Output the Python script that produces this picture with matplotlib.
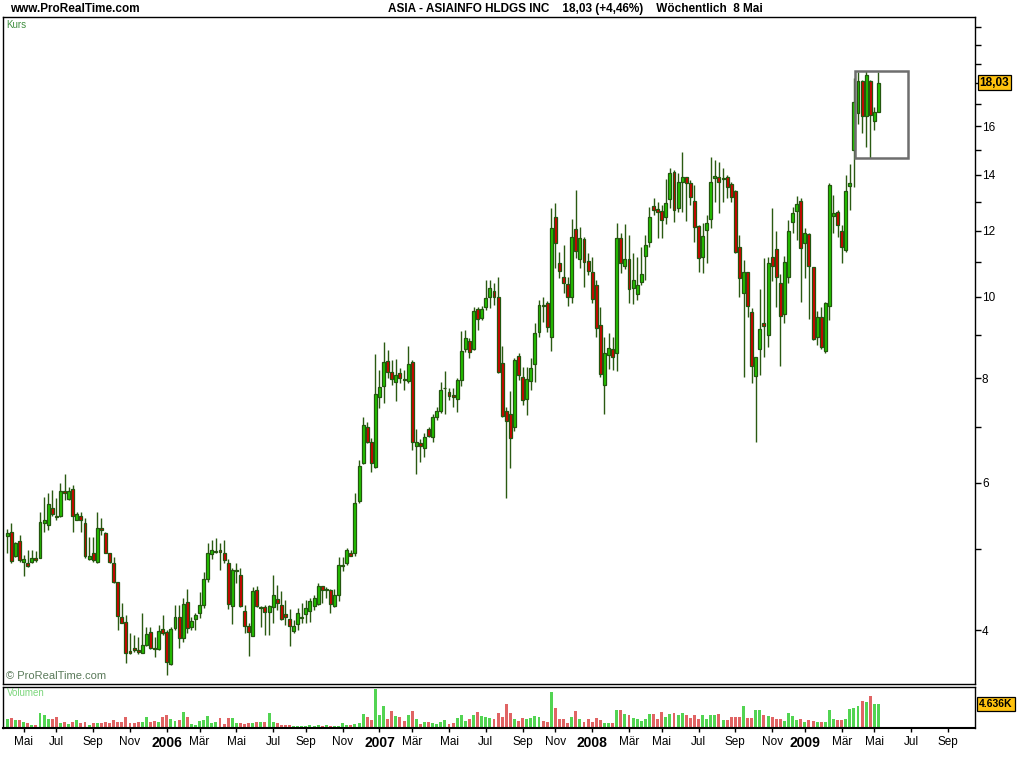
import matplotlib
matplotlib.use("Agg")
import matplotlib.pyplot as plt
import matplotlib.transforms as mtransforms
from matplotlib.patches import Rectangle
from matplotlib.ticker import FixedLocator, NullFormatter, FixedFormatter
import numpy as np
import pandas as pd

plt.rcParams['font.family'] = ['Liberation Sans', 'DejaVu Sans']

# ---------------- data (weekly candles, 8 Apr 2005 .. 8 May 2009) ----------------
start_date = "2005-04-08"
opens = [5.18,5.24,4.90,5.11,4.82,4.81,4.82,4.88,4.88,5.37,5.34,5.59,5.48,5.47,5.86,5.74,5.89,5.42,5.47,5.37,
         4.86,4.95,4.82,5.30,5.23,4.94,4.81,4.57,4.15,4.09,3.77,3.81,3.79,3.76,3.84,3.98,3.81,3.80,4.01,3.98,
         3.64,4.02,4.15,3.91,4.32,4.03,4.12,4.19,4.28,4.60,4.93,4.96,4.98,4.95,4.81,4.27,4.70,4.66,4.21,4.04,
         3.94,4.46,4.25,4.26,4.20,4.26,4.36,4.28,4.18,4.12,3.99,4.07,4.13,4.18,4.22,4.27,4.30,4.52,4.46,4.46,
         4.27,4.40,4.77,4.81,4.94,4.94,5.70,6.34,7.00,6.71,6.27,7.59,7.82,8.38,8.13,7.92,8.11,7.98,7.94,8.36,
         6.64,6.69,6.60,6.96,6.81,7.19,7.31,7.78,7.70,7.64,7.55,7.96,8.66,8.85,8.66,9.67,9.43,9.73,10.00,10.16,
         10.00,8.34,7.31,7.25,7.00,8.50,8.02,7.55,7.94,8.32,9.08,9.78,9.84,8.95,12.46,10.99,10.57,10.36,9.99,12.05,
         11.10,11.73,11.04,10.71,10.33,9.25,7.85,8.52,8.67,8.57,11.77,10.88,11.10,10.25,10.07,10.42,11.19,11.64,12.84,12.74,
         12.67,12.46,13.10,14.10,12.77,13.72,13.91,13.68,13.02,12.16,11.16,12.02,12.39,13.87,13.91,13.83,13.91,13.64,13.38,11.48,
         10.10,10.71,9.60,8.04,8.66,9.30,9.00,11.16,11.41,10.39,9.54,10.57,12.29,12.67,13.02,11.61,11.89,10.85,8.95,9.46,
         8.62,9.76,12.50,12.63,11.99,11.38,13.57,14.98,16.58,18.11,16.43,18.11,16.23,16.63]
highs = [5.28,5.37,5.10,5.19,4.92,4.98,4.98,4.97,5.53,5.77,5.83,5.88,5.75,5.99,6.14,5.93,5.96,5.53,5.53,5.45,
         5.16,5.16,5.53,5.45,5.24,4.95,4.89,4.57,4.31,4.17,3.97,3.95,3.92,4.19,4.03,4.03,3.92,4.06,4.17,4.00,
         4.03,4.28,4.28,4.37,4.48,4.15,4.19,4.44,4.69,5.08,5.12,5.15,5.08,5.12,4.86,4.75,4.81,4.75,4.28,4.08,
         4.50,4.52,4.27,4.28,4.28,4.66,4.53,4.45,4.35,4.24,4.11,4.25,4.31,4.34,4.37,4.40,4.55,4.52,4.50,4.48,
         4.48,4.89,4.89,5.01,4.98,5.83,6.39,7.19,7.09,6.79,8.55,8.18,8.83,8.64,8.41,8.43,8.22,8.18,8.74,8.41,
         6.96,6.77,6.88,7.00,7.25,7.39,7.92,8.16,7.79,7.79,8.00,9.10,9.13,8.93,9.73,9.73,9.76,10.48,10.48,10.39,
         10.57,8.74,7.39,7.72,8.45,8.57,8.25,8.25,8.45,9.30,9.92,10.00,9.89,12.78,12.95,11.32,11.54,10.57,12.39,13.42,
         12.12,11.80,11.29,11.16,10.48,9.73,8.95,9.05,8.95,12.26,11.93,12.22,11.86,11.29,11.16,11.48,11.86,12.81,13.13,12.99,
         12.88,13.83,14.26,14.18,14.06,14.90,13.91,13.79,13.61,12.19,12.26,12.53,14.70,14.57,14.49,14.26,13.99,13.72,13.42,11.86,
         11.07,10.71,9.70,8.48,10.22,11.13,11.16,12.77,11.99,10.65,11.19,12.36,12.81,13.20,13.13,12.09,11.93,10.85,9.62,9.73,
         9.86,13.68,13.24,12.70,12.19,13.99,14.41,18.26,18.57,18.16,18.62,18.16,16.86,18.57]
lows = [4.94,4.81,4.89,4.82,4.64,4.76,4.81,4.82,4.88,5.24,5.27,5.48,5.41,5.46,5.72,5.72,5.24,5.41,5.24,4.87,
        4.85,4.82,4.81,5.19,4.94,4.81,4.55,4.00,4.08,3.65,3.74,3.77,3.74,3.76,3.83,3.80,3.71,3.79,3.95,3.53,
        3.63,4.00,3.81,3.87,3.97,4.00,4.00,4.13,4.25,4.57,4.86,4.95,4.72,4.81,4.24,4.07,4.55,4.26,3.97,3.72,
        3.93,4.26,4.03,3.95,3.95,4.08,4.23,4.11,4.06,3.83,3.97,4.00,4.08,4.08,4.09,4.23,4.29,4.31,4.37,4.19,
        4.26,4.33,4.70,4.78,4.91,4.90,5.68,6.31,6.69,6.18,6.25,7.37,7.47,8.00,7.85,7.51,7.89,7.74,7.89,6.56,
        6.14,6.35,6.44,6.81,6.71,7.13,7.27,7.25,7.53,7.39,7.29,7.83,8.59,8.45,8.64,9.13,9.38,9.65,9.70,9.78,
        8.11,7.19,5.75,6.25,6.92,7.96,7.43,7.23,7.74,7.92,8.95,9.33,9.08,8.62,10.83,10.54,10.10,9.76,9.84,11.13,
        10.83,10.28,10.63,9.84,8.95,8.02,7.25,8.20,8.18,8.16,10.68,10.80,9.84,9.81,9.92,10.33,10.48,11.48,12.53,11.77,
        11.77,12.22,12.77,12.29,12.63,12.63,12.32,12.88,11.64,10.71,10.68,10.99,12.09,12.99,12.60,12.99,13.13,12.99,11.29,10.01,
        8.02,9.46,7.89,6.71,8.07,8.48,8.71,10.45,9.73,8.27,9.30,10.39,11.93,11.70,9.86,10.54,9.41,8.88,8.76,8.66,
        8.57,9.38,11.93,11.80,10.99,11.32,12.70,13.53,16.10,15.72,15.10,14.65,15.83,16.63]
closes = [5.23,4.84,5.08,4.85,4.86,4.77,4.88,4.85,5.38,5.41,5.65,5.50,5.46,5.86,5.83,5.86,5.48,5.50,5.42,4.90,
          4.90,4.85,5.30,5.26,4.95,4.82,4.57,4.16,4.08,3.76,3.76,3.79,3.77,3.84,3.96,3.81,3.80,3.99,3.97,3.66,
          4.01,4.15,3.91,4.30,4.02,4.10,4.17,4.28,4.60,4.95,4.98,4.97,4.96,4.85,4.30,4.72,4.71,4.27,4.04,3.98,
          4.45,4.27,4.26,4.20,4.27,4.41,4.31,4.12,4.15,4.04,4.04,4.19,4.14,4.25,4.33,4.37,4.52,4.46,4.48,4.30,
          4.41,4.78,4.78,4.98,4.91,5.68,6.28,7.04,6.71,6.34,7.65,7.80,8.36,8.13,7.98,8.07,8.00,7.96,8.32,6.71,
          6.71,6.64,6.81,6.83,7.19,7.31,7.74,7.79,7.62,7.60,7.96,8.62,8.93,8.59,9.62,9.41,9.67,9.97,10.25,10.00,
          8.14,7.21,7.11,6.79,8.41,8.07,7.53,7.98,8.23,9.05,9.78,9.76,9.21,12.09,11.61,10.74,10.39,9.99,11.80,11.35,
          11.77,11.01,10.74,9.95,9.18,8.09,8.57,8.69,8.48,11.77,10.99,11.10,10.22,10.48,10.33,10.65,11.54,12.46,12.70,12.63,
          12.36,12.95,14.06,12.70,13.72,13.91,13.68,13.17,12.12,11.13,11.83,12.26,13.72,13.95,13.72,13.87,13.53,13.17,11.32,10.54,
          10.71,9.76,8.27,8.48,9.15,9.23,10.99,10.88,10.57,9.49,11.01,11.99,12.60,12.91,11.45,11.93,10.88,8.90,9.46,8.71,
          9.84,13.61,12.60,12.19,11.48,13.38,13.68,17.09,18.11,16.43,18.42,16.50,16.63,18.03]
volumes = [1803,1932,1610,1610,1224,1030,644,644,2962,2576,1803,1803,2190,1030,1224,837,1224,1610,1030,1224,
           644,1030,1030,1030,1224,1030,1610,1224,1224,2190,1030,1030,1224,1224,2190,1224,1417,1224,2190,2576,
           1803,1417,1610,3156,2190,837,644,1417,1610,2383,1030,1224,1996,837,1996,1996,1030,1030,837,1030,
           1030,1224,1224,1224,2962,1224,1030,644,644,644,451,451,451,451,644,451,644,451,644,451,
           451,451,1030,644,644,837,1030,2769,2190,1610,7599,2576,4315,1803,3349,2383,2190,1417,2576,3349,
           1803,837,1224,1224,1030,837,1224,1610,837,1030,1996,2576,1417,1803,2576,3156,2383,2190,1996,1803,
           2962,2190,4701,2962,1803,1417,1996,1803,1996,2383,2190,1417,1224,7020,3928,1803,1803,1030,2190,3349,
           1803,1224,1803,1224,1996,1610,1030,1030,1030,3542,3542,2769,2576,1996,1803,1417,1803,2769,2769,1803,
           3156,2190,2769,2962,2576,2962,2576,1996,2576,1803,2576,1803,2576,2576,2769,1610,1610,2190,2190,2190,
           4315,1996,1996,3542,3542,2576,2383,2190,1803,1803,1417,2962,2383,1610,1803,1224,1610,1417,1224,1224,
           1224,3542,1803,1610,1610,1803,3735,3928,4315,5281,5088,6247,4701,4636]

last_price_label = "18,03"
last_volume_label = "4.636K"
title_left = "www.ProRealTime.com"
title_center = "ASIA - ASIAINFO HLDGS INC    18,03 (+4,46%)    Wöchentlich  8 Mai"
month_names = {1: None, 3: "Mär", 5: "Mai", 7: "Jul", 9: "Sep", 11: "Nov"}
price_ticks = list(range(4, 22))
price_labels_shown = [4, 6, 8, 10, 12, 14, 16]

# ---------------- styling ----------------
W, H = 1024, 768
GREEN = "#22C400"
RED = "#D40000"
EDGE = "#23560F"
WICK = "#2A5A12"
VGREEN = "#52D452"
VRED = "#E06464"
GOLD = "#FFC20E"

n = len(closes)
idx = np.arange(n)
dates = pd.date_range(start_date, periods=n + 26, freq="7D")

fig = plt.figure(figsize=(W / 100, H / 100), dpi=100)
fig.patch.set_facecolor("white")

def fx(px):
    return px / W

def fy(py):
    return 1 - py / H

ax = fig.add_axes([fx(3), fy(684), fx(975) - fx(3), fy(17) - fy(684)])
axv = fig.add_axes([fx(3), fy(728), fx(975) - fx(3), fy(687) - fy(728)])

xmin, xmax = -1.05, 236.6

# ---- candles ----
o = np.array(opens); h = np.array(highs); l = np.array(lows); c = np.array(closes)
up = c >= o
ax.vlines(idx, l, h, color=WICK, lw=1.0, zorder=2)
bottoms = np.minimum(o, c)
heights = np.maximum(np.abs(c - o), 0.012)
ax.bar(idx, heights, bottom=bottoms, width=0.72,
       color=[GREEN if u else RED for u in up], edgecolor=EDGE, linewidth=0.9, zorder=3)

ax.set_yscale("log")
ax.set_ylim(3.448, 21.60)
ax.set_xlim(xmin, xmax)

ax.yaxis.tick_right()
ax.yaxis.set_major_locator(FixedLocator(price_ticks))
ax.yaxis.set_major_formatter(FixedFormatter([str(t) if t in price_labels_shown else "" for t in price_ticks]))
ax.yaxis.set_minor_locator(FixedLocator([]))
ax.yaxis.set_minor_formatter(NullFormatter())
ax.tick_params(axis="y", which="major", direction="out", length=4, width=1, labelsize=8.5, pad=1, colors="black")
ax.tick_params(axis="x", which="both", bottom=False, labelbottom=False)
for s in ax.spines.values():
    s.set_color("black"); s.set_linewidth(1.0)

# zoom box over last six candles
k = 6
bx0 = n - k - 0.7
bx1 = 220.2
by0 = min(lows[-k:]); by1 = max(highs[-k:])
ax.add_patch(Rectangle((bx0, by0), bx1 - bx0, by1 - by0, fill=False, ec="#6E6E6E", lw=1.8, zorder=4))

# price marker
trans = mtransforms.blended_transform_factory(ax.transAxes, ax.transData)
ax.text(1.0045, closes[-1], last_price_label, transform=trans, ha="left", va="center",
        fontsize=8.5, fontweight="bold", color="black",
        bbox=dict(boxstyle="square,pad=0.15", fc=GOLD, ec="black", lw=0.9), zorder=10, clip_on=False)

ax.text(0.003, 0.996, "Kurs", transform=ax.transAxes, ha="left", va="top", fontsize=7, color="#3F8F3F")
ax.text(0.003, 0.004, "© ProRealTime.com", transform=ax.transAxes, ha="left", va="bottom", fontsize=8, color="#5A7A5A")

# ---- volume ----
vcols = [VGREEN if u else VRED for u in up]
axv.bar(idx, volumes, width=0.72, color=vcols, linewidth=0)
axv.set_xlim(xmin, xmax)
axv.set_ylim(0, 7920)
axv.set_yticks([])
for s in axv.spines.values():
    s.set_color("black"); s.set_linewidth(1.0)
axv.spines["bottom"].set_linewidth(1.5)
axv.text(0.004, 0.97, "Volumen", transform=axv.transAxes, ha="left", va="top", fontsize=7, color="#7CD67C")

transv = mtransforms.blended_transform_factory(axv.transAxes, axv.transData)
axv.text(1.0045, volumes[-1], last_volume_label, transform=transv, ha="left", va="center",
         fontsize=7.5, fontweight="bold", color="black",
         bbox=dict(boxstyle="square,pad=0.2", fc=GOLD, ec="black", lw=0.9), zorder=10, clip_on=False)

# x ticks: first week of every second month
tick_pos, tick_lab, tick_bold = [], [], []
seen = set()
for i, d in enumerate(dates):
    if i > xmax:
        break
    key = (d.year, d.month)
    if d.month in month_names and key not in seen:
        seen.add(key)
        tick_pos.append(i)
        if d.month == 1:
            tick_lab.append(str(d.year)); tick_bold.append(True)
        else:
            tick_lab.append(month_names[d.month]); tick_bold.append(False)
axv.set_xticks(tick_pos)
axv.set_xticklabels(tick_lab)
axv.tick_params(axis="x", direction="out", length=3, width=1, pad=3, labelsize=8.5)
for t, b in zip(axv.get_xticklabels(), tick_bold):
    if b:
        t.set_fontweight("bold"); t.set_fontsize(10)

# ---- header ----
fig.text(fx(10), fy(9), title_left, ha="left", va="center", fontsize=8.5, fontweight="bold")
fig.text(fx(388), fy(9), title_center, ha="left", va="center", fontsize=8.5, fontweight="bold")

fig.savefig("out.png", dpi=100, facecolor="white")
